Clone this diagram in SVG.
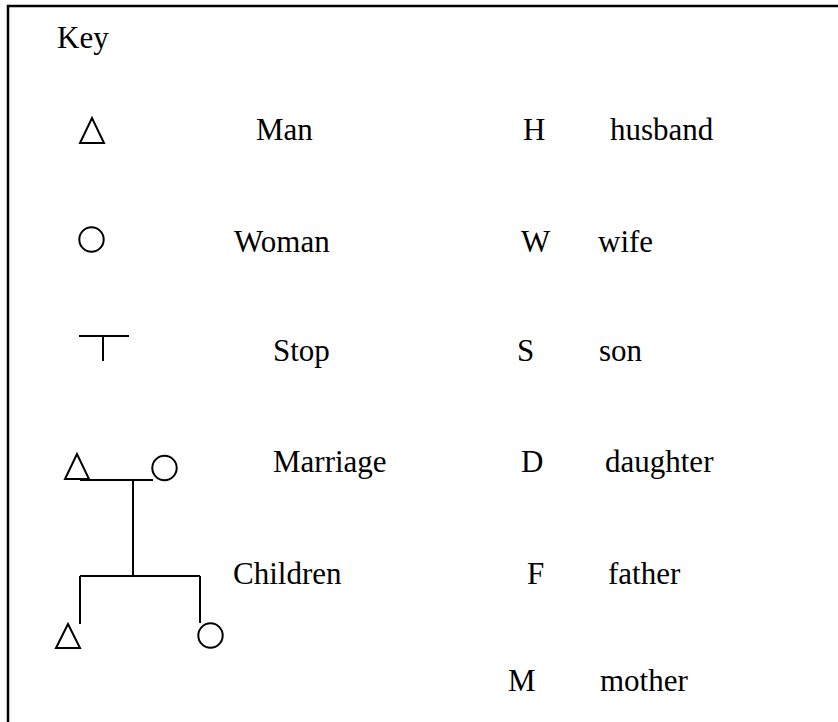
<svg xmlns="http://www.w3.org/2000/svg" width="838" height="722" viewBox="0 0 838 722">
<style>
text{font-family:"Liberation Serif","Times New Roman",serif;font-size:31px;fill:#000}
.s{fill:none;stroke:#000;stroke-width:2}
.f{fill:none;stroke:#000;stroke-width:2.5}
</style>
<rect width="838" height="722" fill="#fff"/>
<g id="frame"><path class="f" d="M8,722 V6 H838"/></g>
<g id="key"><text x="57" y="48">Key</text></g>
<g id="man"><path class="s" d="M92,118 L80,143 L104,143 Z"/><text x="256" y="140">Man</text></g>
<g id="woman"><circle class="s" cx="91.5" cy="239.5" r="12.2"/><text x="234" y="252">Woman</text></g>
<g id="stop"><path class="s" d="M79,336 H129 M103,336 V361"/><text x="273" y="361">Stop</text></g>
<g id="marriage">
<path class="s" d="M77,454 L65,479 L89,479 Z"/>
<circle class="s" cx="164.5" cy="468" r="12.2"/>
<text x="273" y="472">Marriage</text>
</g>
<g id="children">
<path class="s" d="M68,624 L56,648 L80,648 Z"/>
<circle class="s" cx="210.5" cy="635.5" r="12.2"/>
<text x="233" y="584">Children</text>
</g>
<g id="connectors">
<path class="s" d="M80,480 H153 M133,480 V576 M80,576 H200 M80,576 V624 M200,576 V623"/>
</g>
<g id="H"><text x="523" y="140">H</text><text x="610" y="140">husband</text></g>
<g id="W"><text x="521" y="252">W</text><text x="598" y="252">wife</text></g>
<g id="S"><text x="517" y="361">S</text><text x="599" y="361">son</text></g>
<g id="D"><text x="521" y="472">D</text><text x="605" y="472">daughter</text></g>
<g id="F"><text x="527" y="584">F</text><text x="608" y="584">father</text></g>
<g id="M"><text x="508" y="691">M</text><text x="600" y="691">mother</text></g>
</svg>
